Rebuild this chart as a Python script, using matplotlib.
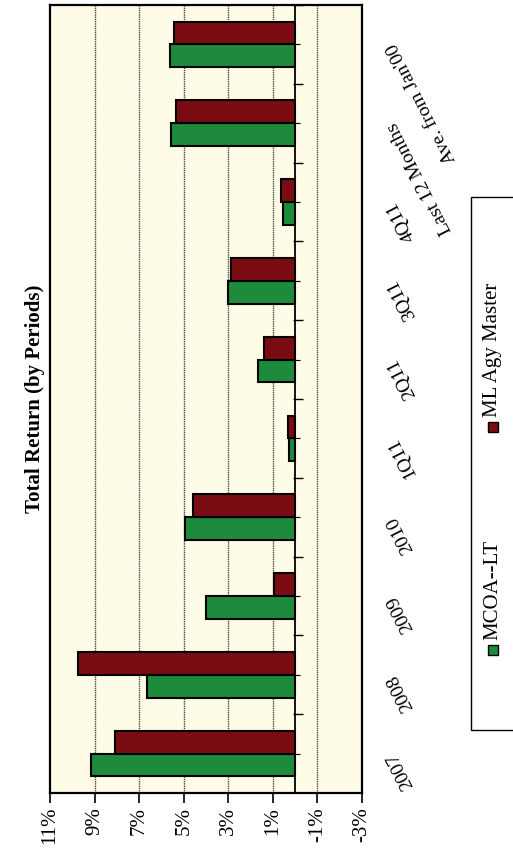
import numpy as np
import matplotlib.pyplot as plt
from matplotlib.patches import Rectangle
from matplotlib.transforms import blended_transform_factory

plt.rcParams['font.family'] = ['Liberation Serif', 'DejaVu Serif']

# Datos (el gráfico original está girado 90°: las categorías van de abajo hacia arriba)
periods = ['2007', '2008', '2009', '2010', '1Q11', '2Q11', '3Q11', '4Q11',
           'Last 12 Months', "Ave. from Jan'00"]
mcoa_lt = [9.15, 6.65, 4.0, 4.95, 0.27, 1.68, 3.0, 0.55, 5.55, 5.62]
ml_agy = [8.1, 9.75, 0.95, 4.6, 0.3, 1.4, 2.9, 0.64, 5.36, 5.45]
ticks = [11, 9, 7, 5, 3, 1, -1, -3]
series_names = ['MCOA--LT', 'ML Agy Master']
colors = ['#1e8a3c', '#7a0c12']

W, H = 513, 865
fig = plt.figure(figsize=(W / 100, H / 100), dpi=100)
ax = fig.add_axes([50 / W, 1 - 793 / H, (362 - 50) / W, (793 - 5) / H])
ax.set_facecolor('#fefce6')

y = np.arange(len(periods))
h = 0.29
ax.barh(y - h / 2, mcoa_lt, height=h, color=colors[0], edgecolor='black', linewidth=1.5, zorder=3)
ax.barh(y + h / 2, ml_agy, height=h, color=colors[1], edgecolor='black', linewidth=1.5, zorder=3)

ax.set_xlim(ticks[0], ticks[-1])  # eje invertido: 11% a la izquierda
ax.set_ylim(-0.5, len(periods) - 0.5)
ax.set_xticks(ticks)
ax.set_xticklabels([f'{t}%' for t in ticks], rotation=90, fontsize=15)
ax.tick_params(axis='x', length=7, width=1.2, pad=3)
ax.set_yticks([])
for t in ticks[1:-1]:
    ax.axvline(t, color='#4a4a4a', lw=1.0, ls=(0, (1, 0.6)), zorder=1)
ax.axvline(0, color='black', lw=1.3, zorder=4)
# marcas del eje de categorías sobre la línea del 0
ax.hlines(np.arange(len(periods) + 1) - 0.5, 0.1, -0.35, color='black', lw=1, zorder=4)
ax.hlines(y, 0, -0.2, color='black', lw=0.8, zorder=4)
for s in ax.spines.values():
    s.set_linewidth(1.6)

# etiquetas de categorías a la derecha, giradas
tr = blended_transform_factory(ax.transAxes, ax.transData)
for i, lab in enumerate(periods):
    ax.text(1.095, i, lab, transform=tr, rotation=117, ha='right', va='center',
            rotation_mode='anchor', fontsize=14)

# título (girado)
fig.text(35 / W, 1 - 399 / H, 'Total Return (by Periods)', rotation=90,
         fontweight='bold', fontsize=15, ha='center', va='center')

# leyenda dibujada a mano (el escaneo la corta por la derecha)
fig.patches.append(Rectangle((471 / W, 1 - 730 / H), 80 / W, (730 - 197) / H,
                             transform=fig.transFigure, facecolor='white',
                             edgecolor='black', lw=1))
for name, c, sy in zip(series_names, colors, [650, 427]):
    fig.patches.append(Rectangle((488 / W, 1 - (sy + 5) / H), 10 / W, 10 / H,
                                 transform=fig.transFigure, facecolor=c,
                                 edgecolor='black', lw=1))
    fig.text(493 / W, 1 - (sy - 10) / H, name, rotation=90, ha='left', va='center',
             rotation_mode='anchor', fontsize=15)

fig.savefig('out.png', dpi=100)
